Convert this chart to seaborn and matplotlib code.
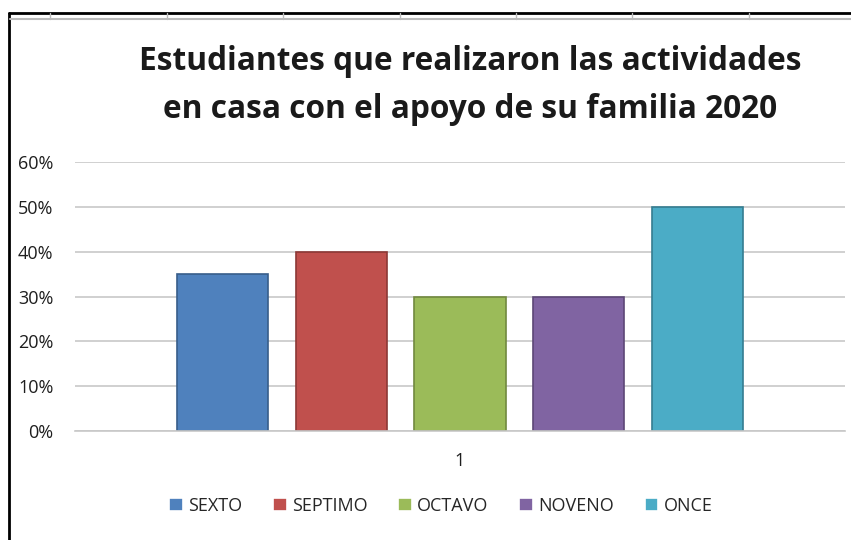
import pandas as pd
import numpy as np
import seaborn as sns
import matplotlib.pyplot as plt
from matplotlib.lines import Line2D

# data
grados = ["SEXTO", "SEPTIMO", "OCTAVO", "NOVENO", "ONCE"]
valores = [0.35, 0.40, 0.30, 0.30, 0.50]
categoria = ["1"] * len(grados)
colores = ["#4F81BD", "#C0504D", "#9BBB59", "#8064A2", "#4BACC6"]
bordes = ["#385D8A", "#8C3836", "#71893F", "#5C4776", "#357D91"]
ticks_y = [0, 0.1, 0.2, 0.3, 0.4, 0.5, 0.6]
titulo = ["Estudiantes que realizaron las actividades",
          "en casa con el apoyo de su familia 2020"]

df = pd.DataFrame({"grupo": categoria, "grado": grados, "valor": valores})

sns.set_theme(style="white")
plt.rcParams["font.family"] = ["Open Sans", "DejaVu Sans"]

W, H = 851, 540
fig = plt.figure(figsize=(W / 100, H / 100), dpi=100)
ax = fig.add_axes([75 / W, 1 - 431 / H, 770 / W, 269 / H])

sns.barplot(data=df, x="grupo", y="valor", hue="grado", hue_order=grados,
            palette=colores, saturation=1, width=0.77, gap=0.23, ax=ax,
            linewidth=1.2, legend=True)
for p, ec in zip(ax.patches, bordes):
    p.set_edgecolor(ec)

ax.set_ylim(0, 0.6)
ax.set_yticks(ticks_y)
ax.set_yticklabels([f"{int(round(t * 100))}%" for t in ticks_y])
ax.set_xlim(-0.5, 0.5)
ax.set_xlabel("")
ax.set_ylabel("")
ax.yaxis.grid(True, color="#C8C8C8", linewidth=1.2)
ax.set_axisbelow(True)
for s in ["top", "right", "left"]:
    ax.spines[s].set_visible(False)
ax.spines["bottom"].set_color("#C8C8C8")
ax.spines["bottom"].set_linewidth(1.2)
ax.tick_params(axis="y", length=0, pad=15.5, labelsize=13, labelcolor="#1E1E1E")
ax.tick_params(axis="x", length=0, pad=15, labelsize=13, labelcolor="#1E1E1E")

handles, labels = ax.get_legend_handles_labels()
ax.get_legend().remove()
fig.legend(handles, labels, loc="center", bbox_to_anchor=(441 / W, 1 - 506 / H),
           ncol=5, frameon=False, fontsize=13, handlelength=0.75, handleheight=0.75,
           handletextpad=0.3, columnspacing=1.7)

for i, linea in enumerate(titulo):
    fig.text(470 / W, 1 - (62 + 47 * i) / H, linea, ha="center", va="center",
             fontsize=22.8, fontweight="bold", color="#1A1A1A")

# spreadsheet frame around the chart
fig.add_artist(Line2D([9 / W, 1], [1 - 13 / H, 1 - 13 / H], color="black", lw=2))
fig.add_artist(Line2D([9 / W, 9 / W], [0, 1 - 13 / H], color="black", lw=2))
fig.add_artist(Line2D([10 / W, 1], [1 - 19 / H, 1 - 19 / H], color="#BBBBBB", lw=1.5))
for x in [50, 167, 283, 400, 516, 632, 749]:
    fig.add_artist(Line2D([x / W, x / W], [1 - 19 / H, 1 - 13 / H], color="#BBBBBB", lw=1))

fig.savefig("out.png", dpi=100)
